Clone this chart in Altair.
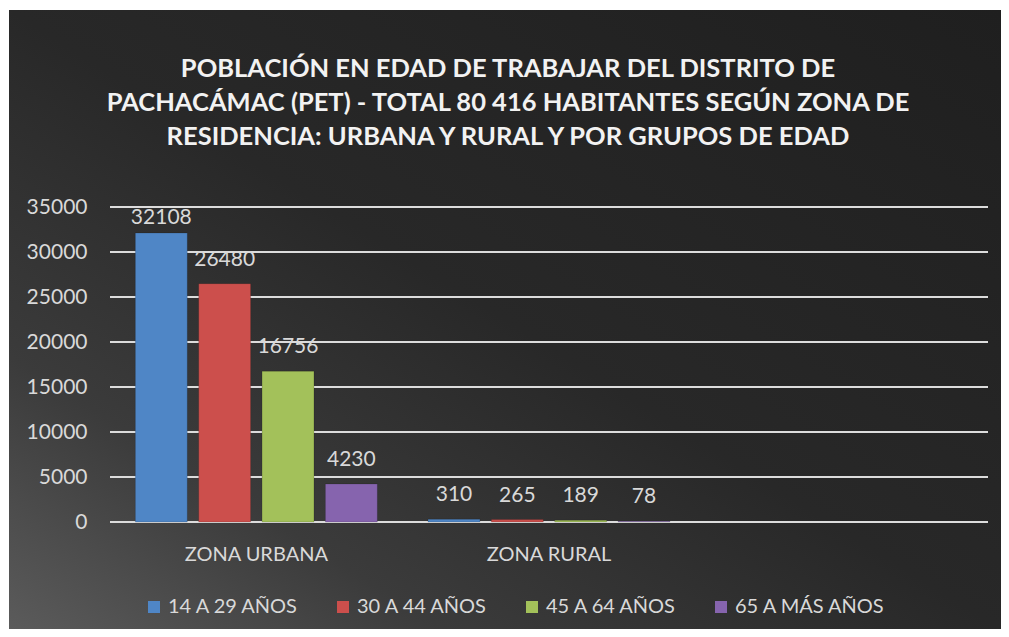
import altair as alt
import pandas as pd

# ---- data ----
zones = ["ZONA URBANA", "ZONA RURAL"]
zone_domain = ["ZONA URBANA", "ZONA RURAL", ""]
groups = ["14 A 29 AÑOS", "30 A 44 AÑOS", "45 A 64 AÑOS", "65 A MÁS AÑOS"]
urbana = [32108, 26480, 16756, 4230]
rural = [310, 265, 189, 78]
y_ticks = [0, 5000, 10000, 15000, 20000, 25000, 30000, 35000]
colors = ["#4f86c6", "#cc4f4c", "#a3c15a", "#8664ae"]
title_lines = [
    "POBLACIÓN EN EDAD DE TRABAJAR DEL DISTRITO DE",
    "PACHACÁMAC (PET) - TOTAL 80 416 HABITANTES SEGÚN ZONA DE",
    "RESIDENCIA: URBANA Y RURAL Y POR GRUPOS DE EDAD",
]

rows = []
for z, vals in zip(zones, [urbana, rural]):
    for g, v in zip(groups, vals):
        rows.append({"zona": z, "grupo": g, "valor": v})
df = pd.DataFrame(rows)

W, H = 878, 315
PL, PT, PR, PB = 102, 199, 13, 107
FONT = "Lato"
TXT = "#d9d9d9"

yscale = alt.Scale(domain=[0, 35000], nice=False, zero=True)
xscale = alt.Scale(domain=zone_domain, paddingInner=0, paddingOuter=0)
xoff_scale = alt.Scale(domain=groups, paddingInner=0.18, paddingOuter=0.4)

y_axis = alt.Axis(
    values=y_ticks, format="d", grid=False, domain=False, ticks=False,
    labelFontSize=21, labelColor=TXT, labelPadding=23, zindex=1,
    labelFont=FONT, title=None,
)

bg = alt.Chart(pd.DataFrame({"k": [0]})).mark_rect(
    color=alt.Gradient(
        gradient="linear", x1=0, y1=1, x2=1, y2=0,
        stops=[
            alt.GradientStop(color="#5b5b5b", offset=0),
            alt.GradientStop(color="#3b3b3b", offset=0.22),
            alt.GradientStop(color="#282828", offset=0.5),
            alt.GradientStop(color="#1f1f1f", offset=1),
        ],
    )
).encode(
    x=alt.value(-PL + 1), x2=alt.value(W + PR),
    y=alt.value(-PT + 2), y2=alt.value(H + PB),
)

grid = alt.Chart(pd.DataFrame({"t": y_ticks})).mark_rule(
    color="#dcdcdc", strokeWidth=2.2
).encode(
    y=alt.Y("t:Q", scale=yscale, axis=y_axis),
    x=alt.value(0), x2=alt.value(W),
)

x_enc = alt.X(
    "zona:N", scale=xscale, sort=zone_domain,
    axis=alt.Axis(
        title=None, labelFontSize=20, labelColor=TXT, labelPadding=22,
        domain=False, ticks=False, labelAngle=0, zindex=1, labelFont=FONT,
    ),
)
xo_enc = alt.XOffset("grupo:N", scale=xoff_scale, sort=groups)

bars = alt.Chart(df).mark_bar(stroke="#000000", strokeOpacity=0.15, strokeWidth=1).encode(
    x=x_enc,
    xOffset=xo_enc,
    y=alt.Y("valor:Q", scale=yscale, axis=y_axis),
    color=alt.Color(
        "grupo:N", scale=alt.Scale(domain=groups, range=colors), sort=groups,
        legend=alt.Legend(
            title=None, orient="none", legendX=34, legendY=390,
            direction="horizontal", columns=4, symbolType="square",
            symbolSize=144, symbolStrokeWidth=0, labelFontSize=20,
            labelColor=TXT, labelFont=FONT, columnPadding=34, labelOffset=4,
            padding=0,
        ),
    ),
)

labels = alt.Chart(df).transform_calculate(
    ly="min(datum.valor + 2650, 33800)"
).mark_text(fontSize=21, color=TXT, font=FONT, baseline="middle").encode(
    x=x_enc,
    xOffset=xo_enc,
    y=alt.Y("ly:Q", scale=yscale, axis=y_axis),
    text=alt.Text("valor:Q", format="d"),
)

chart = alt.layer(bg, grid, bars, labels).properties(
    width=W, height=H,
    autosize="none",
    padding={"left": PL, "top": PT, "right": PR, "bottom": PB},
    title=alt.TitleParams(
        text=title_lines, fontSize=25.5, font=FONT, fontWeight="bold",
        color="#f2f2f2", lineHeight=34, anchor="middle", frame="group",
        dx=-41, offset=0, dy=140,
    ),
).configure_view(stroke=None).configure(background="white")

chart.save("out.html", embed_options={"renderer": "svg", "actions": False})
